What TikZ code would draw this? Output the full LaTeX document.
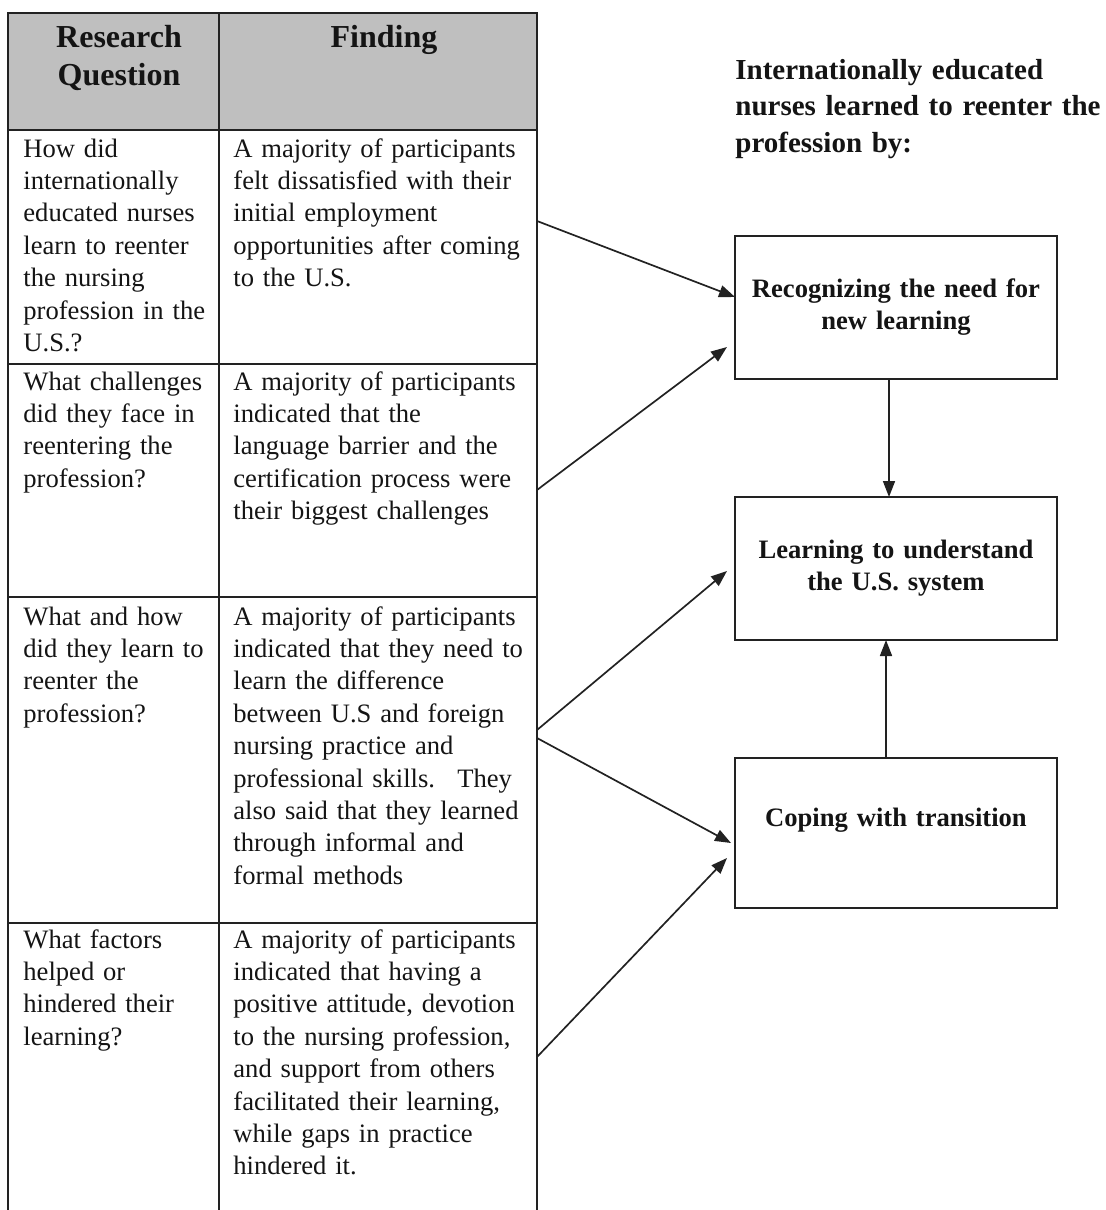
\documentclass[tikz,border=0pt]{standalone}
\usepackage{fontspec}
\setmainfont{Liberation Serif}
\usepackage{xcolor}
\usepackage{tikz}
\usetikzlibrary{arrows.meta,positioning,calc}
\definecolor{ink}{HTML}{141414}
\definecolor{rule}{HTML}{222222}
\definecolor{headgray}{HTML}{BFBFBF}
\tikzset{
    every picture/.style={line join=miter},
    tablecell/.style={draw=rule,line width=1pt,inner sep=0pt,outer sep=0pt,
      anchor=north west},
    headcell/.style={tablecell,fill=headgray},
    celltext/.style={anchor=base west,inner sep=0pt,align=left,text=ink,
      font=\fontsize{13.3}{16.2}\selectfont},
    headtext/.style={anchor=base,inner sep=0pt,align=center,text=ink,
      text width=100pt,font=\fontsize{16}{19}\selectfont\bfseries},
    stagebox/.style={draw=rule,line width=0.8pt,inner sep=2pt,outer sep=0pt,
      minimum width=161pt,minimum height=71.5pt,text width=155pt,align=center,
      text=ink,font=\fontsize{13.3}{16}\selectfont\bfseries},
    flowarrow/.style={-{Triangle[length=8pt,width=6pt]},draw=rule,
      line width=0.85pt}
}
\begin{document}
\begin{tikzpicture}[x=0.5pt,y=-0.5pt]
  \useasboundingbox (0,0) rectangle (1106,1210);
  \clip (0,0) rectangle (1106,1210);
  % table grid
  \node[headcell,minimum width=105.5pt,minimum height=58.5pt] (qhead) at (8,13) {};
  \node[headcell,minimum width=159pt,minimum height=58.5pt] (fhead) at (219,13) {};
  \foreach \r/\top/\h in {1/130/117,2/364/116.5,3/597/163,4/923/145.5} {
    \node[tablecell,minimum width=105.5pt,minimum height=\h pt] (qcell\r) at (8,\top) {};
    \node[tablecell,minimum width=159pt,minimum height=\h pt] (fcell\r) at (219,\top) {};
  }
  \node[headtext] (qtitle) at (119,47) {Research\\Question};
  \node[headtext] (ftitle) at (384,47) {Finding};
  % questions
  \node[celltext,text width=100pt] (q1) at (23,157) {How did\\internationally\\educated nurses\\learn to reenter\\the nursing\\profession in the\\U.S.?};
  \node[celltext,text width=100pt] (q2) at (23,390) {What challenges\\did they face in\\reentering the\\profession?};
  \node[celltext,text width=100pt] (q3) at (23,625) {What and how\\did they learn to\\reenter the\\profession?};
  \node[celltext,text width=100pt] (q4) at (23,948) {What factors\\helped or\\hindered their\\learning?};
  % findings
  \node[celltext,text width=155pt] (f1) at (233,157) {A majority of participants\\felt dissatisfied with their\\initial employment\\opportunities after coming\\to the U.S.};
  \node[celltext,text width=155pt] (f2) at (233,390) {A majority of participants\\indicated that the\\language barrier and the\\certification process were\\their biggest challenges};
  \node[celltext,text width=155pt] (f3) at (233,625) {A majority of participants\\indicated that they need to\\learn the difference\\between U.S and foreign\\nursing practice and\\professional skills.~ They\\also said that they learned\\through informal and\\formal methods};
  \node[celltext,text width=155pt] (f4) at (233,948) {A majority of participants\\indicated that having a\\positive attitude, devotion\\to the nursing profession,\\and support from others\\facilitated their learning,\\while gaps in practice\\hindered it.};
  % stages
  \node[anchor=base west,inner sep=0pt,align=left,text width=200pt,text=ink,
    font=\fontsize{14.5}{18.25}\selectfont\bfseries] (heading) at (735,79)
    {Internationally educated\\nurses learned to reenter the\\profession by:};
  \node[stagebox,anchor=north west] (recog) at (735,236) {Recognizing the need for\\new learning};
  \node[stagebox,below=59pt of recog] (understand) {Learning to understand\\the U.S. system};
  \node[stagebox,below=59pt of understand,minimum height=75pt] (coping) {Coping with transition\\\mbox{}};
  \draw[flowarrow] ([yshift=13pt]fcell1.east) -- ([yshift=5.25pt]recog.west);
  \draw[flowarrow] ([yshift=-4.75pt]fcell2.east) -- ([xshift=-4pt,yshift=-19.75pt]recog.west);
  \draw[flowarrow] ([yshift=15pt]fcell3.east) -- ([xshift=-4pt,yshift=-1.25pt]understand.west);
  \draw[flowarrow] ([yshift=11pt]fcell3.east) -- ([xshift=-2pt,yshift=-5pt]coping.west);
  \draw[flowarrow] ([yshift=5.75pt]fcell4.east) -- ([xshift=-4pt,yshift=-12.5pt]coping.west);
  \draw[flowarrow] ([xshift=-3.5pt]recog.south) -- ([xshift=-3.5pt]understand.north);
  \draw[flowarrow] ([xshift=-5pt]coping.north) -- ([xshift=-5pt]understand.south);
\end{tikzpicture}
\end{document}
